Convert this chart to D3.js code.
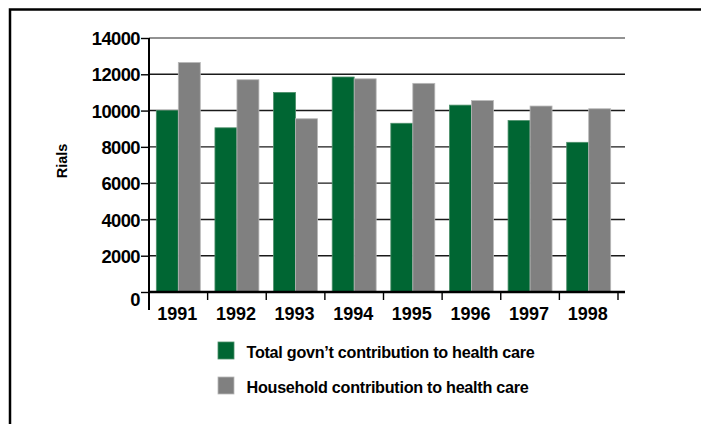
<!DOCTYPE html>
<html>
<head>
<meta charset="utf-8">
<script src="https://cdn.jsdelivr.net/npm/d3@7"></script>
<style>
  html, body { margin: 0; padding: 0; background: #fff; }
  svg { display: block; font-family: "Liberation Sans", Arial, sans-serif; font-weight: bold; }
</style>
</head>
<body>
<svg id="chart" width="701" height="424"></svg>
<script>
// ── data ──
const YEARS = ["1991", "1992", "1993", "1994", "1995", "1996", "1997", "1998"];
const GOVT = [10000, 9050, 11000, 11850, 9300, 10300, 9450, 8250];
const HOUSEHOLD = [12650, 11700, 9550, 11750, 11500, 10550, 10250, 10100];
const Y_TICKS = [0, 2000, 4000, 6000, 8000, 10000, 12000, 14000];
const SERIES = ["Total govn\u2019t contribution to health care", "Household contribution to health care"];

const COLORS = ["#006633", "#808080"];
const EDGES = ["#4d8f6a", "#b8b8b8"];

const svg = d3.select("#chart");

// outer frame: top + left edges only
svg.append("path")
    .attr("d", "M10,424 L10,9.5 L701,9.5")
    .attr("fill", "none").attr("stroke", "#000").attr("stroke-width", 2.5);

const plotL = 149, plotR = 618, gridR = 625, plotT = 38, plotB = 292;

const y = d3.scaleLinear().domain([0, 14000]).range([plotB, plotT]);
const x0 = d3.scaleBand().domain(YEARS).range([plotL, plotR])
    .paddingInner(0.25).paddingOuter(0.125);
const x1 = d3.scaleBand().domain([0, 1]).range([0, x0.bandwidth()]);

// gridlines
svg.append("g").selectAll("line").data(Y_TICKS.filter(d => d > 0)).join("line")
    .attr("x1", plotL).attr("x2", gridR)
    .attr("y1", d => y(d)).attr("y2", d => y(d))
    .attr("stroke", d => d === 14000 ? "#6e6e6e" : "#1a1a1a")
    .attr("stroke-width", 1.4);

// bars
const rows = YEARS.map((yr, i) => ({ yr, vals: [GOVT[i], HOUSEHOLD[i]] }));
svg.append("g").selectAll("g").data(rows).join("g")
    .attr("transform", d => `translate(${x0(d.yr)},0)`)
  .selectAll("rect").data(d => d.vals.map((v, k) => ({ v, k }))).join("rect")
    .attr("x", d => x1(d.k))
    .attr("width", x1.bandwidth())
    .attr("y", d => y(d.v))
    .attr("height", d => y(0) - y(d.v))
    .attr("fill", d => COLORS[d.k])
    .attr("stroke", d => EDGES[d.k]).attr("stroke-width", 0.8);

// y axis
const yAx = svg.append("g").attr("transform", `translate(${plotL},0)`)
    .call(d3.axisLeft(y).tickValues(Y_TICKS).tickSize(8).tickPadding(1).tickFormat(d3.format("d")));
yAx.select(".domain").remove();
yAx.selectAll("line").attr("stroke", "#000").attr("stroke-width", 1.4);
yAx.selectAll("text").attr("fill", "#000").attr("font-size", "18.4px").attr("letter-spacing", "-0.6px")
    .attr("font-family", "Liberation Sans, Arial, sans-serif").attr("font-weight", "bold")
    .attr("dy", d => d === 0 ? "0.72em" : "0.36em");
svg.append("line").attr("x1", plotL).attr("x2", plotL).attr("y1", plotT).attr("y2", 310)
    .attr("stroke", "#000").attr("stroke-width", 2);

// x axis
const step = x0.step();
const bounds = YEARS.map(yr => x0(yr) + x0.bandwidth() + step * x0.paddingInner() / 2);
svg.append("line").attr("x1", plotL).attr("x2", gridR).attr("y1", plotB).attr("y2", plotB)
    .attr("stroke", "#000").attr("stroke-width", 2.6);
svg.append("g").selectAll("line").data(bounds).join("line")
    .attr("x1", d => d).attr("x2", d => d).attr("y1", plotB).attr("y2", plotB + 8)
    .attr("stroke", "#000").attr("stroke-width", 1.4);
svg.append("g").selectAll("text").data(YEARS).join("text")
    .attr("x", d => x0(d) + x0.bandwidth() / 2 - 1)
    .attr("y", 320)
    .attr("text-anchor", "middle").attr("font-size", "18px").attr("fill", "#000")
    .text(d => d);

// y title
svg.append("text").attr("transform", "translate(67,161) rotate(-90)")
    .attr("text-anchor", "middle").attr("font-size", "14.5px").attr("fill", "#000")
    .text("Rials");

// legend
const lg = svg.append("g").selectAll("g").data(SERIES).join("g")
    .attr("transform", (d, i) => `translate(218,${342 + i * 35})`);
lg.append("rect").attr("width", 16).attr("height", 17)
    .attr("fill", (d, i) => COLORS[i]).attr("stroke", (d, i) => EDGES[i]).attr("stroke-width", 0.8);
lg.append("text").attr("x", 28.5).attr("y", 15.5)
    .attr("font-size", "16.2px").attr("letter-spacing", "-0.28px").attr("fill", "#000").text(d => d);
</script>
</body>
</html>
